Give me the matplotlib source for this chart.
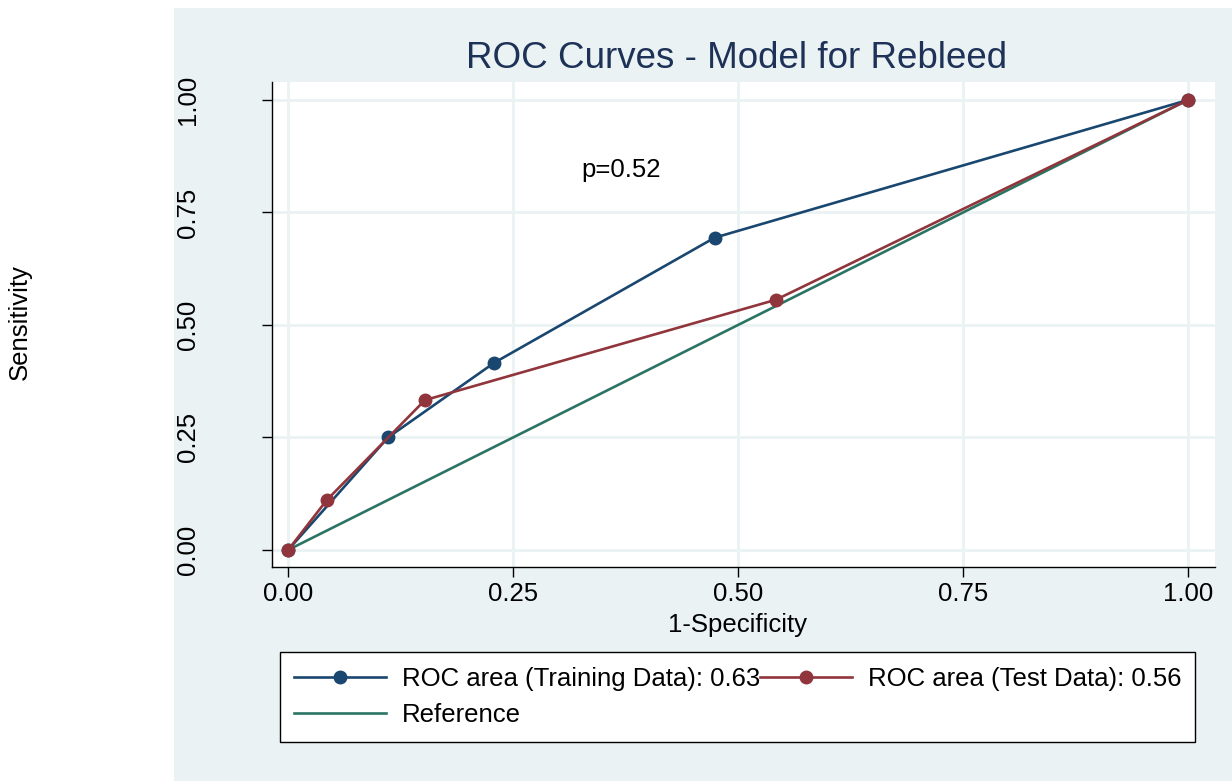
import matplotlib.pyplot as plt
from matplotlib.patches import Rectangle

plt.rcParams['font.family'] = ['Liberation Sans', 'DejaVu Sans']

# ROC points
train_fpr = [0.0, 0.111, 0.229, 0.474, 1.0]
train_tpr = [0.0, 0.25, 0.416, 0.694, 1.0]
test_fpr = [0.0, 0.043, 0.152, 0.542, 1.0]
test_tpr = [0.0, 0.111, 0.333, 0.556, 1.0]
ref_x = [0.0, 1.0]
ref_y = [0.0, 1.0]
ticks = [0.0, 0.25, 0.5, 0.75, 1.0]
tick_labels = ["0.00", "0.25", "0.50", "0.75", "1.00"]

navy = "#1a476f"
maroon = "#90353b"
green = "#2b7464"
panel = "#eaf2f3"
fs = 18.5

fig = plt.figure(figsize=(12.32, 7.81), dpi=100)
fig.patch.set_facecolor("white")
# light panel behind the graph (Stata style)
fig.patches.append(Rectangle((174 / 1232, 0), 1 - 174 / 1232, 1 - 8 / 781,
                             transform=fig.transFigure, facecolor=panel,
                             edgecolor="none", zorder=-5))

ax = fig.add_axes([272 / 1232, 1 - 567 / 781, (1215 - 272) / 1232, (567 - 82) / 781])
ax.set_facecolor("white")
ax.set_xlim(-0.018, 1.03)
ax.set_ylim(-0.038, 1.04)

ax.plot(train_fpr, train_tpr, color=navy, lw=1.9, marker="o", ms=9,
        label="ROC area (Training Data): 0.63", zorder=4)
ax.plot(test_fpr, test_tpr, color=maroon, lw=1.9, marker="o", ms=9,
        label="ROC area (Test Data): 0.56", zorder=5)
ax.plot(ref_x, ref_y, color=green, lw=1.9, label="Reference", zorder=3)

ax.set_xticks(ticks)
ax.set_xticklabels(tick_labels)
ax.set_yticks(ticks)
ax.set_yticklabels(tick_labels, rotation=90, va="center")
ax.tick_params(axis="both", labelsize=fs, length=7, width=1, direction="out", colors="black")
ax.tick_params(axis="x", pad=4)
ax.tick_params(axis="y", pad=45)
ax.grid(True, color=panel, lw=2)
ax.set_axisbelow(True)
for s in ["top", "right"]:
    ax.spines[s].set_visible(False)
for s in ["left", "bottom"]:
    ax.spines[s].set_color("black")
    ax.spines[s].set_linewidth(1)

fig.text(737 / 1232, 1 - 58 / 781, "ROC Curves - Model for Rebleed", fontsize=26.5,
         color="#1e3258", ha="center", va="center")
fig.text(737 / 1232, 1 - 625 / 781, "1-Specificity", fontsize=fs, ha="center", va="center")
fig.text(20 / 1232, 1 - 322 / 781, "Sensitivity", rotation=90, fontsize=fs,
         ha="center", va="center")
ax.text(0.37, 0.844, "p=0.52", fontsize=fs, ha="center", va="center")

h, l = ax.get_legend_handles_labels()
order = [0, 2, 1]
leg = fig.legend([h[i] for i in order], [l[i] for i in order], ncol=2,
                 loc="center", bbox_to_anchor=(737.5 / 1232, 1 - 697 / 781),
                 fontsize=fs, frameon=True, fancybox=False, edgecolor="black",
                 facecolor="white", framealpha=1,
                 handlelength=3.6, handletextpad=0.6, columnspacing=0.0,
                 borderpad=0.55, labelspacing=0.5)
leg.get_frame().set_linewidth(1)

fig.savefig("out.png", dpi=100, facecolor=fig.get_facecolor())
